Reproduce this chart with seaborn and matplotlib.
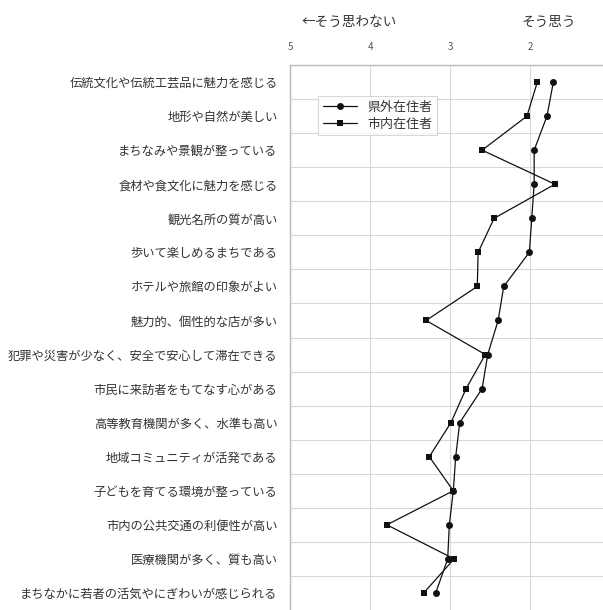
import matplotlib
matplotlib.use("Agg")
import matplotlib.pyplot as plt
import seaborn as sns
import pandas as pd
import numpy as np

categories = [
    "伝統文化や伝統工芸品に魅力を感じる",
    "地形や自然が美しい",
    "まちなみや景観が整っている",
    "食材や食文化に魅力を感じる",
    "観光名所の質が高い",
    "歩いて楽しめるまちである",
    "ホテルや旅館の印象がよい",
    "魅力的、個性的な店が多い",
    "犯罪や災害が少なく、安全で安心して滞在できる",
    "市民に来訪者をもてなす心がある",
    "高等教育機関が多く、水準も高い",
    "地域コミュニティが活発である",
    "子どもを育てる環境が整っている",
    "市内の公共交通の利便性が高い",
    "医療機関が多く、質も高い",
    "まちなかに若者の活気やにぎわいが感じられる",
]
kengai = [1.71, 1.79, 1.95, 1.95, 1.98, 2.01, 2.33, 2.40, 2.53, 2.60, 2.88, 2.93, 2.96, 3.01, 3.03, 3.18]
shinai = [1.91, 2.04, 2.60, 1.69, 2.45, 2.65, 2.66, 3.30, 2.56, 2.80, 2.99, 3.26, 2.96, 3.79, 2.95, 3.33]
series_names = ["県外在住者", "市内在住者"]
x_ticks = [5, 4, 3, 2]

sns.set_theme(style="white")
plt.rcParams['font.family'] = ['Noto Sans CJK JP', 'DejaVu Sans']

rows = []
for i, c in enumerate(categories):
    rows.append({"pos": i, "value": kengai[i], "series": series_names[0]})
    rows.append({"pos": i, "value": shinai[i], "series": series_names[1]})
df = pd.DataFrame(rows)

fig = plt.figure(figsize=(6.03, 6.10), dpi=100)
ax = fig.add_axes([290/603, 0.0, 1 - 290/603, 1 - 65/610])

sns.lineplot(data=df, x="value", y="pos", hue="series", style="series",
             hue_order=series_names, style_order=series_names,
             markers={series_names[0]: "o", series_names[1]: "s"},
             dashes=False, palette=["#111111", "#111111"], orient="y",
             sort=False, linewidth=0.9, markersize=5, markeredgewidth=0,
             ax=ax)

ax.set_xlim(5, 1.09)
ax.set_ylim(len(categories) - 0.5, -0.5)
ax.xaxis.tick_top()
ax.set_xticks(x_ticks)
ax.set_xticklabels([str(t) for t in x_ticks], fontsize=7, color="#555555")
ax.tick_params(axis="x", length=0, pad=9)
ax.set_yticks(range(len(categories)))
ax.set_yticklabels(categories, fontsize=8.85, color="#333333")
ax.tick_params(axis="y", length=0, pad=9)
ax.set_xlabel("")
ax.set_ylabel("")

for t in x_ticks:
    ax.axvline(t, color="#d9d9d9", linewidth=0.8, zorder=0)
for b in np.arange(0.5, len(categories) - 0.5, 1):
    ax.axhline(b, color="#d9d9d9", linewidth=0.8, zorder=0)

for side in ["right", "bottom"]:
    ax.spines[side].set_visible(False)
for side in ["left", "top"]:
    ax.spines[side].set_color("#bbbbbb")
    ax.spines[side].set_linewidth(1.0)

fig.text(302/603, 1 - 22/610, "←そう思わない", fontsize=9.8, color="#333333",
         ha="left", va="center")
fig.text(522/603, 1 - 22/610, "そう思う", fontsize=9.8, color="#333333",
         ha="left", va="center")

leg = ax.legend(loc="upper left", bbox_to_anchor=(0.07, 0.955), fontsize=9.4,
                frameon=True, handlelength=2.6, borderpad=0.35,
                labelspacing=0.3, fancybox=False)
leg.get_frame().set_edgecolor("#cccccc")
leg.get_frame().set_linewidth(0.8)
for txt in leg.get_texts():
    txt.set_color("#333333")

fig.savefig("out.png", dpi=100)
